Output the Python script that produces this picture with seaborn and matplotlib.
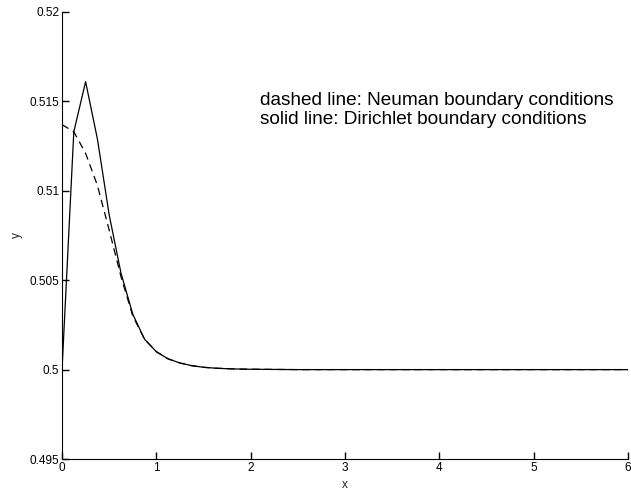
import numpy as np
import pandas as pd
import matplotlib
matplotlib.use("Agg")
import matplotlib.pyplot as plt
import seaborn as sns

# grid points (step 0.125 near the peak, coarser on the flat tail)
x_vals = [0.0, 0.125, 0.25, 0.375, 0.5, 0.625, 0.75, 0.875, 1.0, 1.125,
          1.25, 1.375, 1.5, 1.625, 1.75, 1.875, 2.0, 2.5, 3.0, 3.5,
          4.0, 4.5, 5.0, 5.5, 6.0]

# solid line: Dirichlet boundary conditions
dirichlet = [0.5, 0.5133, 0.5161, 0.5129, 0.50865, 0.5054, 0.5031, 0.5017,
             0.5010, 0.50060, 0.50037, 0.50022, 0.50013, 0.50008, 0.50005,
             0.50003, 0.50002, 0.5, 0.5, 0.5, 0.5, 0.5, 0.5, 0.5, 0.5]

# dashed line: Neuman boundary conditions
neuman = [0.5137, 0.5133, 0.5121, 0.5103, 0.5078, 0.5052, 0.5030, 0.5017,
          0.5010, 0.50060, 0.50037, 0.50022, 0.50013, 0.50008, 0.50005,
          0.50003, 0.50002, 0.5, 0.5, 0.5, 0.5, 0.5, 0.5, 0.5, 0.5]

y_ticks = [0.495, 0.5, 0.505, 0.51, 0.515, 0.52]
y_tick_labels = ["0.495", "0.5", "0.505", "0.51", "0.515", "0.52"]
x_ticks = [0, 1, 2, 3, 4, 5, 6]

df = pd.DataFrame({"x": x_vals, "dirichlet": dirichlet, "neuman": neuman})

sns.set_theme(style="ticks", rc={"xtick.direction": "in", "ytick.direction": "in",
                                 "xtick.major.size": 5, "ytick.major.size": 5,
                                 "xtick.major.width": 1.0, "ytick.major.width": 1.0,
                                 "xtick.color": "black", "ytick.color": "black"})
plt.rcParams["font.family"] = ["Liberation Sans", "DejaVu Sans"]

fig = plt.figure(figsize=(6.31, 4.95), dpi=100)
ax = fig.add_axes([0.0983, 0.0727, 0.8969, 0.9031])

sns.lineplot(data=df, x="x", y="neuman", ax=ax, color="black", lw=0.9,
             linestyle=(0, (6, 4)), estimator=None, sort=False)
sns.lineplot(data=df, x="x", y="dirichlet", ax=ax, color="black", lw=0.9,
             estimator=None, sort=False)

ax.set_xlim(0, 6)
ax.set_ylim(0.495, 0.52)
ax.set_xticks(x_ticks, labels=[str(t) for t in x_ticks])
ax.set_yticks(y_ticks, labels=y_tick_labels)
ax.set_xlabel("x", fontsize=8.5, labelpad=4)
ax.set_ylabel("y", fontsize=8.5, labelpad=5)

ax.spines["top"].set_visible(False)
ax.spines["right"].set_visible(False)
for s in ["left", "bottom"]:
    ax.spines[s].set_color("black")
    ax.spines[s].set_linewidth(0.8)

# inward ticks, like the original figure
ax.tick_params(direction="in", length=5, width=1.0, color="black",
               labelcolor="black", labelsize=8.5, pad=2,
               bottom=True, left=True, top=False, right=False)

ax.text(0.3497, 0.822, "dashed line: Neuman boundary conditions\nsolid line: Dirichlet boundary conditions",
        transform=ax.transAxes, fontsize=13.7, va="top", ha="left",
        linespacing=1.2, color="black")

fig.savefig("out.png", dpi=100)
